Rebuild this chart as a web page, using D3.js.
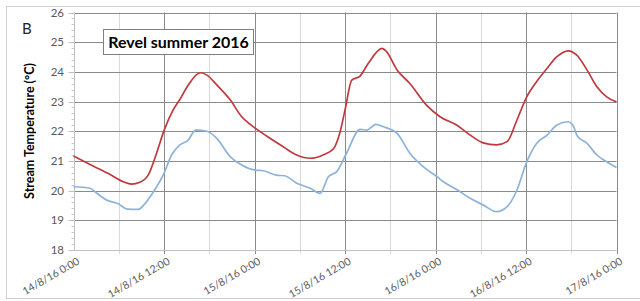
<!DOCTYPE html>
<html>
<head>
<meta charset="utf-8">
<script src="https://cdn.jsdelivr.net/npm/d3@7"></script>
<style>
  body { margin: 0; background: #fff; }
  svg { display: block; font-family: Lato, "Open Sans", sans-serif; }
</style>
</head>
<body>
<svg width="640" height="301"></svg>
<script>
const svg = d3.select('svg');

// hours since 14/8/16 0:00
const redHours = [0, 2.6, 4.8, 6.6, 7.7, 8.8, 9.9, 11, 12, 13.2, 14.1, 15.2, 16.8, 17.7, 19, 20.8, 22.3, 23.4, 25.6, 27.8, 29.6, 31.4, 33.1, 34.5, 35.3, 36, 36.9, 38, 39.1, 40.9, 41.5, 42.9, 44.6, 46.8, 48.6, 50.8, 52.6, 54.3, 56.1, 57.5, 58.8, 60.1, 61.4, 62.8, 64.1, 65.6, 66.7, 68.1, 69.4, 70.7, 72];
const redTemp = [21.17, 20.83, 20.55, 20.3, 20.22, 20.28, 20.52, 21.25, 22.02, 22.71, 23.07, 23.55, 23.97, 23.89, 23.56, 23.05, 22.49, 22.24, 21.84, 21.48, 21.2, 21.09, 21.2, 21.42, 21.93, 22.71, 23.72, 23.86, 24.29, 24.79, 24.68, 24.06, 23.61, 22.88, 22.49, 22.21, 21.87, 21.61, 21.54, 21.65, 22.38, 23.16, 23.67, 24.12, 24.51, 24.71, 24.57, 24.06, 23.5, 23.16, 22.99];

const blueHours = [0, 2.2, 3.1, 4.4, 6, 7.1, 8.6, 9.3, 10.6, 12, 13, 14.1, 15.2, 16.2, 17.7, 19, 20.8, 22.3, 24.1, 25.2, 26.9, 28, 29.6, 31.4, 32.7, 33.8, 34.9, 36.2, 38, 38.9, 40.1, 41.1, 42.9, 44.6, 46.4, 48.2, 49.05, 50.8, 52.6, 54.3, 56.1, 57.5, 58.8, 60.1, 61.4, 62.8, 64.1, 65.6, 66.2, 66.8, 68.1, 69.4, 70.7, 72];
const blueTemp = [20.13, 20.08, 19.91, 19.68, 19.55, 19.38, 19.37, 19.51, 19.96, 20.58, 21.2, 21.54, 21.7, 22.04, 22.0, 21.76, 21.14, 20.86, 20.69, 20.67, 20.52, 20.5, 20.25, 20.08, 19.91, 20.47, 20.64, 21.26, 22.06, 22.04, 22.23, 22.15, 21.93, 21.26, 20.8, 20.47, 20.3, 20.04, 19.74, 19.52, 19.29, 19.46, 20.02, 20.97, 21.59, 21.87, 22.21, 22.32, 22.21, 21.84, 21.59, 21.2, 20.97, 20.78];

const xTickLabels = ['14/8/16 0:00', '14/8/16 12:00', '15/8/16 0:00', '15/8/16 12:00', '16/8/16 0:00', '16/8/16 12:00', '17/8/16 0:00'];
const yTicks = [18, 19, 20, 21, 22, 23, 24, 25, 26];

const start = new Date(2016, 7, 14, 0, 0);
const toDate = h => new Date(start.getTime() + h * 3600000);

const x = d3.scaleTime()
  .domain([start, toDate(72)])
  .range([73.5, 616.5]);
const y = d3.scaleLinear()
  .domain([18, 26])
  .range([250, 12.5]);

// outer frame
svg.append('rect')
  .attr('x', 6.5).attr('y', 6.5)
  .attr('width', 640).attr('height', 292)
  .attr('fill', 'none')
  .attr('stroke', '#d0d0d0');

const grid = svg.append('g');

// minor vertical gridlines every 6h
const minorTimes = d3.range(6, 72, 12).map(toDate);
grid.selectAll('.vminor').data(minorTimes).join('line')
  .attr('x1', d => Math.round(x(d)) + 0.5).attr('x2', d => Math.round(x(d)) + 0.5)
  .attr('y1', y(26)).attr('y2', y(18) + 4)
  .attr('stroke', '#d9d9d9');

// major vertical gridlines every 12h
const majorTimes = d3.range(0, 73, 12).map(toDate);
grid.selectAll('.vmajor').data(majorTimes.slice(1)).join('line')
  .attr('x1', d => Math.round(x(d)) + 0.5).attr('x2', d => Math.round(x(d)) + 0.5)
  .attr('y1', y(26)).attr('y2', y(18) + 4)
  .attr('stroke', '#8a8a8a');

// horizontal gridlines
grid.selectAll('.h').data(yTicks.slice(1)).join('line')
  .attr('x1', x(start)).attr('x2', x(toDate(72)))
  .attr('y1', d => Math.round(y(d)) + 0.5).attr('y2', d => Math.round(y(d)) + 0.5)
  .attr('stroke', '#8a8a8a');

// y axis line with minor ticks
const yAxisX = Math.round(x(start)) + 0.5;
svg.append('line')
  .attr('x1', yAxisX).attr('x2', yAxisX)
  .attr('y1', y(26)).attr('y2', y(18))
  .attr('stroke', '#bfbfbf');
svg.selectAll('.yminor').data(d3.range(18, 26.001, 0.2)).join('line')
  .attr('x1', yAxisX - 3).attr('x2', yAxisX)
  .attr('y1', d => Math.round(y(d)) + 0.5).attr('y2', d => Math.round(y(d)) + 0.5)
  .attr('stroke', '#c8c8c8');
svg.selectAll('.ymajor').data(yTicks).join('line')
  .attr('x1', yAxisX - 6).attr('x2', yAxisX)
  .attr('y1', d => Math.round(y(d)) + 0.5).attr('y2', d => Math.round(y(d)) + 0.5)
  .attr('stroke', '#bfbfbf');

// x axis line
svg.append('line')
  .attr('x1', x(start)).attr('x2', x(toDate(72)))
  .attr('y1', Math.round(y(18)) + 0.5).attr('y2', Math.round(y(18)) + 0.5)
  .attr('stroke', '#bfbfbf');

// y tick labels
svg.selectAll('.ylab').data(yTicks).join('text')
  .attr('x', 64).attr('y', d => y(d))
  .attr('dy', '0.35em')
  .attr('text-anchor', 'end')
  .attr('font-size', 11.5)
  .attr('fill', '#595959')
  .text(d => d);

// x tick labels
svg.selectAll('.xlab').data(majorTimes).join('text')
  .attr('transform', (d, i) => `translate(${x(d) + 3},${257}) rotate(-30)`)
  .attr('text-anchor', 'end')
  .attr('dy', '0.7em')
  .attr('font-size', 10.5)
  .attr('fill', '#595959')
  .text((d, i) => xTickLabels[i]);

// y axis title
svg.append('text')
  .attr('transform', 'translate(34,131) rotate(-90)')
  .attr('text-anchor', 'middle')
  .attr('font-size', 12.5)
  .attr('font-weight', 'bold')
  .attr('fill', '#000')
  .text('Stream Temperature (°C)');

// panel letter
svg.append('text')
  .attr('x', 22).attr('y', 34)
  .attr('font-size', 15)
  .attr('fill', '#222')
  .text('B');

// lines
const line = d3.line()
  .x(d => x(toDate(d[0])))
  .y(d => y(d[1]))
  .curve(d3.curveMonotoneX);

svg.append('path')
  .datum(d3.zip(blueHours, blueTemp))
  .attr('d', line)
  .attr('fill', 'none')
  .attr('stroke', '#8eb3da')
  .attr('stroke-width', 1.7);

svg.append('path')
  .datum(d3.zip(redHours, redTemp))
  .attr('d', line)
  .attr('fill', 'none')
  .attr('stroke', '#c0393e')
  .attr('stroke-width', 1.7);

// title box
svg.append('rect')
  .attr('x', 103.5).attr('y', 29.5)
  .attr('width', 150).attr('height', 25)
  .attr('fill', '#fff')
  .attr('stroke', '#7f7f7f');
svg.append('text')
  .attr('x', 178.5).attr('y', 42)
  .attr('dy', '0.36em')
  .attr('text-anchor', 'middle')
  .attr('font-size', 16)
  .attr('font-weight', 'bold')
  .attr('fill', '#000')
  .text('Revel summer 2016');
</script>
</body>
</html>
